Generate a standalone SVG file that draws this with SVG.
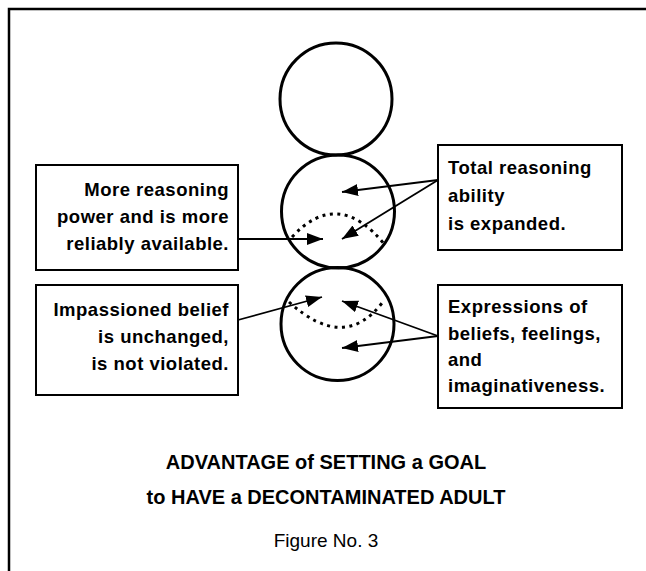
<svg xmlns="http://www.w3.org/2000/svg" width="646" height="571" viewBox="0 0 646 571">
<defs>
<style>
.frame{fill:none;stroke:#000;stroke-width:2.5}
.box{fill:#fff;stroke:#000;stroke-width:2}
.circ{fill:none;stroke:#000;stroke-width:3}
.dots{fill:none;stroke:#000;stroke-width:3;stroke-dasharray:3 4.5}
.arr{fill:none;stroke:#000;stroke-width:1.8;marker-end:url(#ah)}
.lbl{font-family:"Liberation Sans",Arial,sans-serif;font-weight:bold;font-size:18.5px;letter-spacing:0.5px;fill:#000}
.ttl{font-family:"Liberation Sans",Arial,sans-serif;font-weight:bold;font-size:20px;fill:#000;text-anchor:middle}
.fig{font-family:"Liberation Sans",Arial,sans-serif;font-size:19px;fill:#000;text-anchor:middle}
</style>
<marker id="ah" markerUnits="userSpaceOnUse" markerWidth="17" markerHeight="13" refX="16" refY="6" orient="auto">
<path d="M0,0 L16,6 L0,12 z" fill="#000"/>
</marker>
</defs>
<rect class="frame" x="9" y="9" width="700" height="700"/>
<g id="circle-top"><circle class="circ" cx="336" cy="99" r="56"/></g>
<g id="circle-middle"><circle class="circ" cx="338" cy="211.5" r="56.5"/>
<path class="dots" d="M292,237 Q338,187 385,245"/></g>
<g id="circle-bottom"><circle class="circ" cx="337.5" cy="324" r="56.5"/>
<path class="dots" d="M289,302 Q344,352 382,303"/></g>
<g id="box-more-reasoning"><rect class="box" x="36" y="165" width="202" height="105"/>
<text class="lbl" text-anchor="end"><tspan x="229" y="196">More reasoning</tspan><tspan x="229" y="223">power and is more</tspan><tspan x="229" y="250">reliably available.</tspan></text></g>
<g id="box-total-reasoning"><rect class="box" x="438" y="145" width="184" height="105"/>
<text class="lbl"><tspan x="448" y="174">Total reasoning</tspan><tspan x="448" y="202">ability</tspan><tspan x="448" y="230">is expanded.</tspan></text></g>
<g id="box-impassioned"><rect class="box" x="36" y="285" width="202" height="110"/>
<text class="lbl" text-anchor="end"><tspan x="229" y="316">Impassioned belief</tspan><tspan x="229" y="343">is unchanged,</tspan><tspan x="229" y="370">is not violated.</tspan></text></g>
<g id="box-expressions"><rect class="box" x="438" y="285" width="184" height="123"/>
<text class="lbl"><tspan x="448" y="313">Expressions of</tspan><tspan x="448" y="340">beliefs, feelings,</tspan><tspan x="448" y="366">and</tspan><tspan x="448" y="392">imaginativeness.</tspan></text></g>
<g id="connectors">
<path class="arr" d="M438,180 L342,192"/>
<path class="arr" d="M438,180 L342,239"/>
<path class="arr" d="M238,239 L323,239"/>
<path class="arr" d="M238,320 L322,297"/>
<path class="arr" d="M438,336 L342,301"/>
<path class="arr" d="M438,336 L342,348"/>
</g>
<g id="title">
<text class="ttl" x="326" y="469">ADVANTAGE of SETTING a GOAL</text>
<text class="ttl" x="326" y="504">to HAVE a DECONTAMINATED ADULT</text>
<text class="fig" x="326" y="547">Figure No. 3</text>
</g>
</svg>
